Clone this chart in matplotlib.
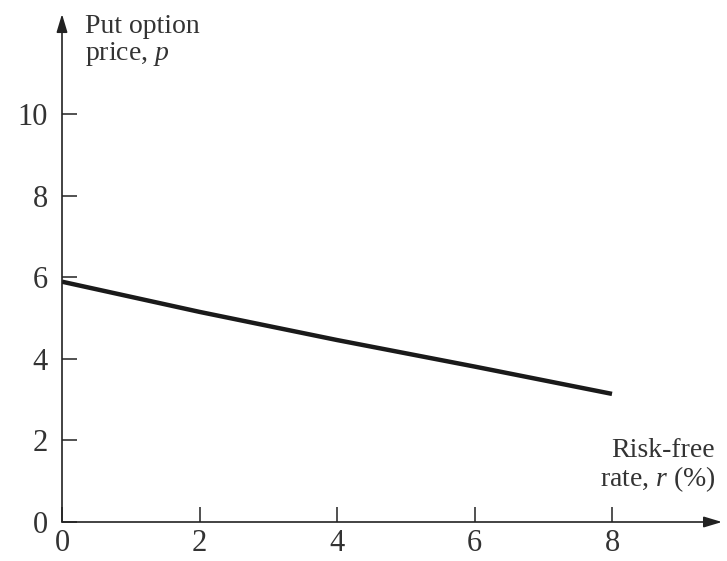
import matplotlib
matplotlib.use("Agg")
import matplotlib.pyplot as plt

rate = [0, 2, 4, 6, 8]
put_price = [5.89, 5.15, 4.46, 3.81, 3.14]
x_ticks = [0, 2, 4, 6, 8]
y_ticks = [0, 2, 4, 6, 8, 10]

plt.rcParams['font.family'] = ['Liberation Serif', 'DejaVu Serif']
plt.rcParams['mathtext.fontset'] = 'custom'
plt.rcParams['mathtext.it'] = 'Liberation Serif:italic'
plt.rcParams['mathtext.rm'] = 'Liberation Serif'

W, H = 727, 561
fig = plt.figure(figsize=(W / 100, H / 100), dpi=100)
xmax, ymax = 9.6, 12.45
px_x, px_y = 68.75, 40.8
ax = fig.add_axes([62 / W, 39 / H, xmax * px_x / W, ymax * px_y / H])
ax.set_xlim(0, xmax)
ax.set_ylim(0, ymax)
for s in ax.spines.values():
    s.set_visible(False)

ax.plot(rate, put_price, color='#1a1a1a', lw=3.2, solid_capstyle='butt')

arrow = dict(arrowstyle='-|>,head_length=1.1,head_width=0.33', color='#222222', lw=1.2,
             shrinkA=0, shrinkB=0)
ax.annotate('', xy=(xmax, 0), xytext=(0, 0), xycoords='data',
            arrowprops=arrow, annotation_clip=False)
ax.annotate('', xy=(0, ymax), xytext=(0, 0), xycoords='data',
            arrowprops=arrow, annotation_clip=False)

ax.set_xticks(x_ticks)
ax.set_yticks(y_ticks)
ax.tick_params(axis='x', direction='in', length=11, width=1.1, color='#222222', pad=5,
               labelsize=22, labelcolor='#333333')
ax.tick_params(axis='y', direction='in', length=11, width=1.1, color='#222222', pad=10,
               labelsize=22, labelcolor='#333333')

ax.text(0.33, ymax, 'Put option\nprice, $p$', fontsize=20, color='#333333',
        ha='left', va='top', linespacing=1.05)
ax.text(xmax - 0.1, 2.05, 'Risk-free\nrate, $r$ (%)', fontsize=20, color='#333333',
        ha='right', va='top', linespacing=1.05, multialignment='right')

fig.savefig('out.png', dpi=100)
